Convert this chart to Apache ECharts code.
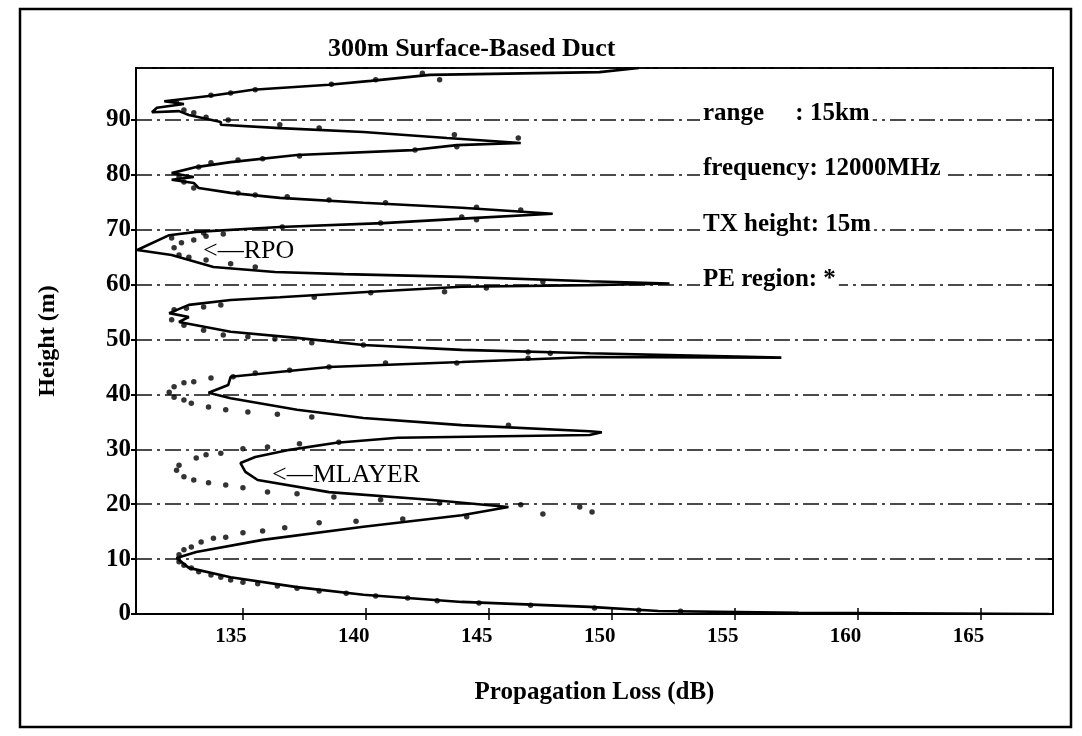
<!DOCTYPE html>
<html>
<head>
<meta charset="utf-8">
<script src="https://cdn.jsdelivr.net/npm/echarts@6/dist/echarts.min.js"></script>
<style>
html,body{margin:0;padding:0;background:#fff;}
#chart{width:1082px;height:736px;}
</style>
</head>
<body>
<div id="chart"></div>
<script>
// Tick labels
var xTicks = [135, 140, 145, 150, 155, 160, 165];

// Solid curve (model): propagation loss (dB) vs height (m)
var curveLoss = [151.1,149.5,142.6,140.2,138.5,135.4,134.5,133.7,131.8,132.6,131.5,131.3,132.4,132.8,134.1,134.1,136.5,139.9,143.3,146.3,143.7,141.9,137.2,134.5,133.1,132.1,133.0,132.1,133.0,133.2,134.5,136.5,139.9,143.9,147.6,144.3,140.7,136.5,133.1,132.0,130.7,132.1,133.8,136.3,139.1,143.9,149.1,152.35,149.1,143.9,140.2,136.5,134.5,132.8,132.0,132.8,132.4,134.5,137.2,139.9,143.9,149.1,156.9,149.1,143.9,138.5,134.5,134.4,133.6,134.5,137.2,139.9,143.9,149.1,149.6,149.1,141.3,138.8,136.9,135.5,134.9,135.1,135.6,138.5,142.6,145.8,143.9,139.9,135.8,133.1,132.3,132.8,134.5,137.2,139.9,143.9,149.1,151.9,157.6,167.8];
var curveHeight = [99.45,98.7,98.2,97.1,96.4,95.5,94.9,94.4,93.4,92.9,92.2,91.4,91.6,90.9,89.6,89.1,88.5,87.8,86.7,85.8,85.4,84.5,83.6,82.3,81.4,80.3,79.6,79.1,78.5,77.6,76.7,75.8,74.9,74.0,72.9,72.1,71.2,70.5,69.6,69.0,66.3,65.4,63.2,62.3,61.9,61.4,60.6,60.2,59.9,59.6,58.7,57.7,57.2,56.3,54.8,54.1,53.2,51.4,50.3,49.0,48.1,47.5,46.7,46.8,45.9,45.0,43.2,41.7,40.3,39.3,37.2,35.7,34.4,33.3,33.1,32.6,32.1,31.2,29.9,28.6,27.5,25.9,24.4,22.2,20.8,19.5,18.0,15.9,13.5,11.3,10.2,8.4,6.7,4.9,3.5,2.2,1.3,0.55,0.2,0.0];

// PE region points (dots)
var peLoss = [142.3,143.0,140.4,138.6,135.5,134.5,133.7,132.3,132.6,133.0,133.5,134.4,136.5,138.1,143.6,146.2,143.7,142.0,137.3,135.8,134.8,133.7,133.2,132.4,132.6,133.0,134.8,135.5,136.8,138.5,140.8,144.5,146.3,143.9,144.5,140.6,136.6,133.4,
  132.1,132.5,133.0,133.5,134.2,132.2,132.4,132.8,133.5,134.5,135.5,
  137.9,140.2,143.2,144.9,147.2,132.2,132.7,133.4,134.1,132.1,132.6,133.4,134.2,135.2,136.3,137.8,139.9,146.6,147.5,
  146.6,143.7,140.8,138.5,136.9,135.5,134.6,133.7,133.0,132.6,132.2,132.0,132.2,132.6,132.9,133.6,134.3,135.2,136.4,137.8,145.8,
  138.9,137.3,136.0,135.0,134.1,133.5,133.1,132.4,132.3,132.6,133.0,133.6,134.3,135.0,136.0,137.2,138.7,140.6,143.0,146.3,147.2,148.7,149.2,144.1,
  141.5,139.6,138.1,136.7,135.8,135.0,134.3,133.8,133.3,132.9,132.6,132.4,132.4,132.6,132.9,133.2,133.7,134.1,134.5,135.0,135.6,136.4,137.2,138.1,139.2,140.4,141.7,142.9,144.6,146.7,149.3,151.1,152.8];
var peHeight = [98.5,97.3,97.3,96.5,95.5,94.9,94.5,93.1,91.8,91.3,90.5,90.0,89.1,88.5,87.3,86.7,85.1,84.5,83.4,82.9,82.7,82.2,81.4,79.6,78.7,77.6,76.7,76.3,76.0,75.4,74.9,74.1,73.6,72.3,71.8,71.2,70.5,69.4,
  68.5,67.6,68.1,68.8,69.2,66.7,65.4,65.0,64.5,63.8,63.2,
  57.7,58.5,58.7,59.4,60.5,55.4,55.7,55.9,56.3,53.6,52.6,51.7,50.8,50.5,50.1,49.4,49.0,47.7,47.5,
  46.6,45.7,45.7,45.0,44.4,43.9,43.2,43.0,42.3,42.1,41.4,40.4,39.5,39.0,38.4,37.7,37.2,36.8,36.4,35.9,34.4,
  31.3,31.0,30.4,30.1,29.3,29.0,28.4,27.1,26.2,25.0,24.4,23.9,23.5,23.0,22.2,21.9,21.3,20.8,20.2,19.9,18.2,19.5,18.6,17.7,
  17.3,16.9,16.6,15.7,15.1,14.8,14.0,13.8,13.1,12.2,11.7,10.8,9.5,8.9,8.4,7.7,7.1,6.7,6.2,5.8,5.5,5.1,4.7,4.2,3.8,3.3,2.9,2.4,2.0,1.6,1.1,0.7,0.5];

var curveData = curveLoss.map(function (v, i) { return [v, curveHeight[i]]; });
var peData = peLoss.map(function (v, i) { return [v, peHeight[i]]; });

var FONT = '"Liberation Serif", "DejaVu Serif", serif';
var chart = echarts.init(document.getElementById('chart'), null, {renderer: 'canvas'});
var X_MIN = 130.65, X_MAX = 167.95, Y_MIN = 0, Y_MAX = 99.45;

var option = {
  backgroundColor: '#fff',
  animation: false,
  title: {
    text: '300m Surface-Based Duct',
    left: 323, top: 31,
    textStyle: {fontFamily: FONT, fontSize: 26, fontWeight: 'bold', color: '#000'}
  },
  grid: {left: 136, right: 29, top: 68, bottom: 122, show: true, borderColor: '#000', borderWidth: 2, backgroundColor: 'transparent'},
  xAxis: [{
    type: 'value', min: X_MIN, max: X_MAX, position: 'bottom',
    axisLine: {show: true, lineStyle: {color: '#000', width: 2}},
    axisTick: {show: true, inside: true, length: 6, customValues: xTicks, lineStyle: {color: '#000', width: 1.5}},
    axisLabel: {customValues: xTicks, margin: 12, padding: [0, 24, 0, 0], color: '#000', fontFamily: FONT, fontSize: 21, fontWeight: 'bold'},
    splitLine: {show: false},
    name: 'Propagation Loss (dB)', nameLocation: 'middle', nameGap: 66,
    nameTextStyle: {fontFamily: FONT, fontSize: 25, fontWeight: 'bold', color: '#000'}
  }, {
    type: 'value', min: X_MIN, max: X_MAX, position: 'top',
    axisLine: {show: true, lineStyle: {color: '#000', width: 2}},
    axisTick: {show: true, inside: true, length: 6, customValues: xTicks, lineStyle: {color: '#000', width: 1.5}},
    axisLabel: {show: false}, splitLine: {show: false}
  }],
  yAxis: [{
    type: 'value', min: Y_MIN, max: Y_MAX, interval: 10, position: 'left',
    axisLine: {show: true, lineStyle: {color: '#000', width: 2}},
    axisTick: {show: true, inside: false, length: 5, lineStyle: {color: '#000', width: 2}},
    axisLabel: {showMaxLabel: false, margin: 5, color: '#000', fontFamily: FONT, fontSize: 25, fontWeight: 'bold'},
    splitLine: {show: true, lineStyle: {color: '#111', width: 1.6, type: [16, 5, 3, 5]}},
    name: 'Height (m)', nameLocation: 'middle', nameGap: 76, nameRotate: 90,
    nameTextStyle: {fontFamily: FONT, fontSize: 24, fontWeight: 'bold', color: '#000', padding: [0, 0, 0, 0]}
  }, {
    type: 'value', min: Y_MIN, max: Y_MAX, interval: 10, position: 'right',
    axisLine: {show: true, lineStyle: {color: '#000', width: 2}},
    axisTick: {show: true, inside: true, length: 5, lineStyle: {color: '#000', width: 2}},
    axisLabel: {show: false}, splitLine: {show: false}
  }],
  graphic: [
    {type: 'rect', z: 100, silent: true, shape: {x: 20, y: 9, width: 1051, height: 718}, style: {fill: 'none', stroke: '#000', lineWidth: 2.5}},
    {type: 'text', z: 100, x: 700, y: 114, style: {text: 'range     : 15km', font: 'bold 25px ' + FONT, fill: '#000', verticalAlign: 'middle', backgroundColor: '#fff', padding: [0, 3]}},
    {type: 'text', z: 100, x: 700, y: 169, style: {text: 'frequency: 12000MHz', font: 'bold 25px ' + FONT, fill: '#000', verticalAlign: 'middle', backgroundColor: '#fff', padding: [0, 3]}},
    {type: 'text', z: 100, x: 700, y: 225, style: {text: 'TX height: 15m', font: 'bold 25px ' + FONT, fill: '#000', verticalAlign: 'middle', backgroundColor: '#fff', padding: [0, 3]}},
    {type: 'text', z: 100, x: 700, y: 280, style: {text: 'PE region: *', font: 'bold 25px ' + FONT, fill: '#000', verticalAlign: 'middle', backgroundColor: '#fff', padding: [0, 3]}},
    {type: 'text', z: 100, x: 203, y: 251, style: {text: '<\u2014RPO', font: '26px ' + FONT, fill: '#000', verticalAlign: 'middle'}},
    {type: 'text', z: 100, x: 272, y: 475, style: {text: '<\u2014MLAYER', font: '26px ' + FONT, fill: '#000', verticalAlign: 'middle'}}
  ],
  series: [{
    type: 'line', name: 'model', xAxisIndex: 0, yAxisIndex: 0,
    data: curveData, showSymbol: false, smooth: false, clip: true,
    lineStyle: {color: '#000', width: 2.6}, z: 5
  }, {
    type: 'scatter', name: 'PE region', xAxisIndex: 0, yAxisIndex: 0,
    data: peData, symbol: 'circle', symbolSize: 5.5, clip: true,
    itemStyle: {color: '#000'}, z: 6
  }]
};
chart.setOption(option);
</script>
</body>
</html>
